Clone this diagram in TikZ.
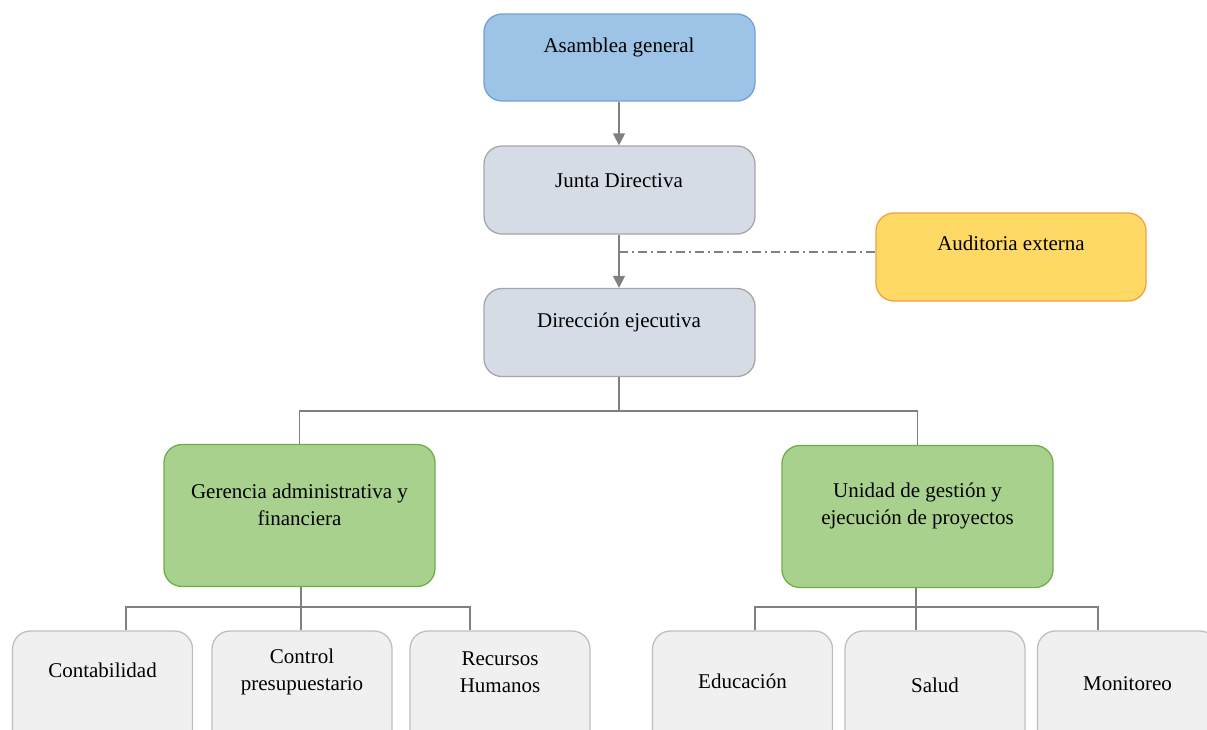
\documentclass[tikz,border=0pt]{standalone}
\usepackage{fontspec}
\setmainfont{Liberation Serif}
\usetikzlibrary{arrows.meta}
\definecolor{bfill}{HTML}{9DC3E6}\definecolor{bdraw}{HTML}{6FA2D8}
\definecolor{gfill}{HTML}{D6DCE5}\definecolor{gdraw}{HTML}{A6A6A6}
\definecolor{yfill}{HTML}{FFD966}\definecolor{ydraw}{HTML}{F4A040}
\definecolor{nfill}{HTML}{A9D18E}\definecolor{ndraw}{HTML}{70AD47}
\definecolor{lfill}{HTML}{F0F0F0}\definecolor{ldraw}{HTML}{BFBFBF}
\definecolor{conn}{HTML}{808080}
\tikzset{
  box/.style={draw, rounded corners=18pt, line width=1.3pt, inner sep=0pt},
  bluebox/.style={box, fill=bfill, draw=bdraw, minimum width=271pt, minimum height=87pt},
  graybox/.style={box, fill=gfill, draw=gdraw, minimum width=271pt, minimum height=88pt},
  yellowbox/.style={box, fill=yfill, draw=ydraw, minimum width=270pt, minimum height=88pt},
  greenbox/.style={box, fill=nfill, draw=ndraw, minimum width=271pt, minimum height=142pt},
  leafbox/.style={box, fill=lfill, draw=ldraw, minimum width=180pt, minimum height=130pt},
  txt/.style={font=\fontsize{21}{27.5}\selectfont, align=center, inner sep=0pt},
  conline/.style={draw=conn, line width=1.5pt},
  arr/.style={conline, -{Triangle[width=12pt,length=12pt]}},
  dd/.style={draw=conn, line width=1.1pt, dash pattern=on 9pt off 4pt on 2pt off 4pt}
}
\begin{document}
\begin{tikzpicture}[x=1pt,y=-1pt]
\useasboundingbox (0,0) rectangle (1207,729);
\clip (0,0) rectangle (1207,729);
% top chain
\node[bluebox] (ag) at (619.5,57.5) {};
\node[txt] (tag) at (619,47) {Asamblea general};
\node[graybox] (jd) at (619.5,190) {};
\node[txt] (tjd) at (619,181) {Junta Directiva};
\node[graybox] (de) at (619.5,332.5) {};
\node[txt] (tde) at (619,322) {Dirección ejecutiva};
\node[yellowbox] (au) at (1011,257) {};
\node[txt] (tau) at (1011,243) {Auditoria externa};
% green
\node[greenbox] (ga) at (299.5,515.5) {};
\node[txt] (tga) at (299.5,505) {Gerencia administrativa y\\financiera};
\node[greenbox] (ug) at (917.5,516.5) {};
\node[txt] (tug) at (917.5,506) {Unidad de gestión y\\ejecución de proyectos};
% leaves
\node[leafbox] (c1) at (102.5,696) {};
\node[txt] (tc1) at (102.5,670) {Contabilidad};
\node[leafbox] (c2) at (302,696) {};
\node[txt] (tc2) at (302,672) {Control\\presupuestario};
\node[leafbox] (c3) at (500,696) {};
\node[txt] (tc3) at (500,672) {Recursos\\Humanos};
\node[leafbox] (c4) at (742.5,696) {};
\node[txt] (tc4) at (742.5,681) {Educación};
\node[leafbox] (c5) at (935,696) {};
\node[txt] (tc5) at (935,685) {Salud};
\node[leafbox] (c6) at (1127.5,696) {};
\node[txt] (tc6) at (1127.5,684) {Monitoreo};
% connectors
\draw[arr] (ag.south -| 619,0) -- (jd.north -| 619,0);
\draw[arr] (jd.south -| 619,0) -- (de.north -| 619,0);
\coordinate (dstart) at (619,252);
\draw[dd] (dstart) -- (au.west |- dstart);
\coordinate (b1) at (619,411);
\draw[conline] (de.south -| b1) -- (b1) -| (ga.north);
\draw[conline] (b1) -| (ug.north);
\coordinate (b2) at (301,607);
\draw[conline] (ga.south -| b2) -- (b2);
\draw[conline] (c1.north -| 126,0) |- (b2) -| (c3.north -| 470,0);
\draw[conline] (b2) -- (c2.north -| b2);
\coordinate (b3) at (916,607);
\draw[conline] (ug.south -| b3) -- (b3);
\draw[conline] (c4.north -| 755,0) |- (b3) -| (c6.north -| 1098,0);
\draw[conline] (b3) -- (c5.north -| b3);
\end{tikzpicture}
\end{document}
